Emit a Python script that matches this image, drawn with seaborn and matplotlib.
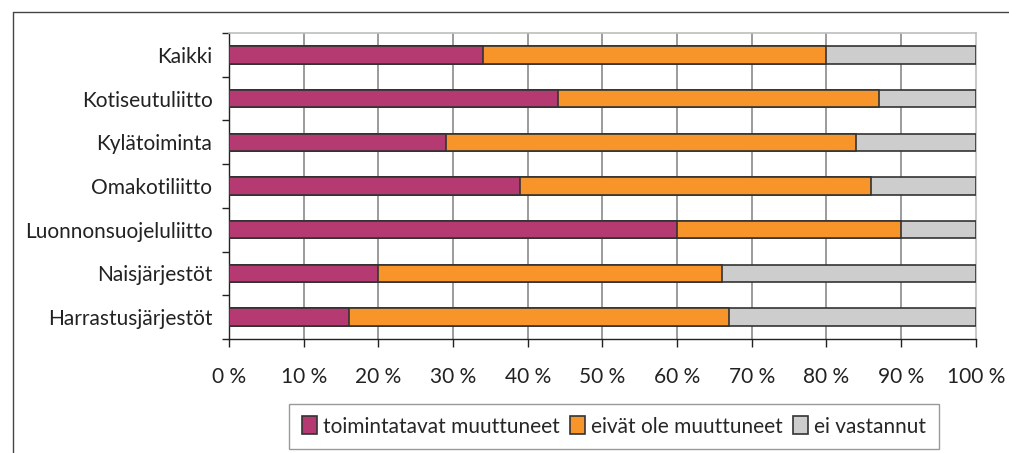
import matplotlib

matplotlib.use("Agg")
import matplotlib.pyplot as plt
import numpy as np
import pandas as pd
import seaborn as sns
from matplotlib.lines import Line2D
from matplotlib.ticker import FixedLocator

categories = [
    "Kaikki",
    "Kotiseutuliitto",
    "Kylätoiminta",
    "Omakotiliitto",
    "Luonnonsuojeluliitto",
    "Naisjärjestöt",
    "Harrastusjärjestöt",
]
muuttuneet = [34, 44, 29, 39, 60, 20, 16]
ei_muuttuneet = [46, 43, 55, 47, 30, 46, 51]
ei_vastannut = [20, 13, 16, 14, 10, 34, 33]

series_names = ["toimintatavat muuttuneet", "eivät ole muuttuneet", "ei vastannut"]
colors = ["#B63A72", "#F7942A", "#CDCDCD"]
tick_labels = [f"{v} %" for v in range(0, 101, 10)]

sns.set_style("white")
plt.rcParams["font.family"] = ["Lato", "DejaVu Sans"]
FS = 15

# cumulative ends, drawn from the longest so shorter ones sit on top
values = np.array([muuttuneet, ei_muuttuneet, ei_vastannut], dtype=float)
cum = np.cumsum(values, axis=0)

fig = plt.figure(figsize=(10.09, 4.53), dpi=100)
ax = fig.add_axes([0.227, 0.2517, 0.740, 0.6755])

for i in reversed(range(3)):
    df = pd.DataFrame({"cat": categories, "end": cum[i]})
    sns.barplot(
        data=df, x="end", y="cat", orient="h", order=categories,
        color=colors[i], edgecolor="#333333", linewidth=1.2,
        width=0.4, saturation=1, ax=ax, label=series_names[i], zorder=3,
    )

ax.set_xlim(0, 100)
ax.set_ylim(6.5, -0.5)
ax.set_xlabel("")
ax.set_ylabel("")

ax.set_xticks(range(0, 101, 10))
ax.set_xticklabels(tick_labels, fontsize=FS, color="#222222")
ax.tick_params(axis="x", direction="out", length=6, width=1, color="#222222", pad=14)
ax.tick_params(axis="x", bottom=True)

ax.set_yticks(range(len(categories)))
ax.set_yticklabels(categories, fontsize=FS, color="#222222")
ax.tick_params(axis="y", which="major", length=0, pad=12)
ax.yaxis.set_minor_locator(FixedLocator(np.arange(-0.5, 7, 1)))
ax.tick_params(axis="y", which="minor", left=True, direction="out", length=5,
               width=1, color="#222222")

for x in range(10, 100, 10):
    ax.axvline(x, color="#8a8a8a", lw=1.2, zorder=1)

for side in ["top", "right"]:
    ax.spines[side].set_color("#bdbdbd")
    ax.spines[side].set_linewidth(1.2)
for side in ["left", "bottom"]:
    ax.spines[side].set_color("#222222")
    ax.spines[side].set_linewidth(1)

handles, labels = ax.get_legend_handles_labels()
order = [labels.index(n) for n in series_names]
leg = ax.legend(
    [handles[k] for k in order], [labels[k] for k in order],
    loc="center", bbox_to_anchor=(0.6085, 0.0585), bbox_transform=fig.transFigure,
    ncol=3, fontsize=FS, frameon=True, fancybox=False, edgecolor="#808080",
    handlelength=0.75, handleheight=0.95, handletextpad=0.3, columnspacing=0.45,
    borderpad=0.6, borderaxespad=0,
)
leg.get_frame().set_linewidth(1)

# outer frame of the figure (only left and top edges visible)
fx, fy = 12.5 / 1009, 1 - 11.5 / 453
fig.add_artist(Line2D([fx, fx], [0, fy], transform=fig.transFigure,
                      color="#444444", lw=1))
fig.add_artist(Line2D([fx, 1], [fy, fy], transform=fig.transFigure,
                      color="#444444", lw=1))

fig.savefig("out.png", dpi=100)
